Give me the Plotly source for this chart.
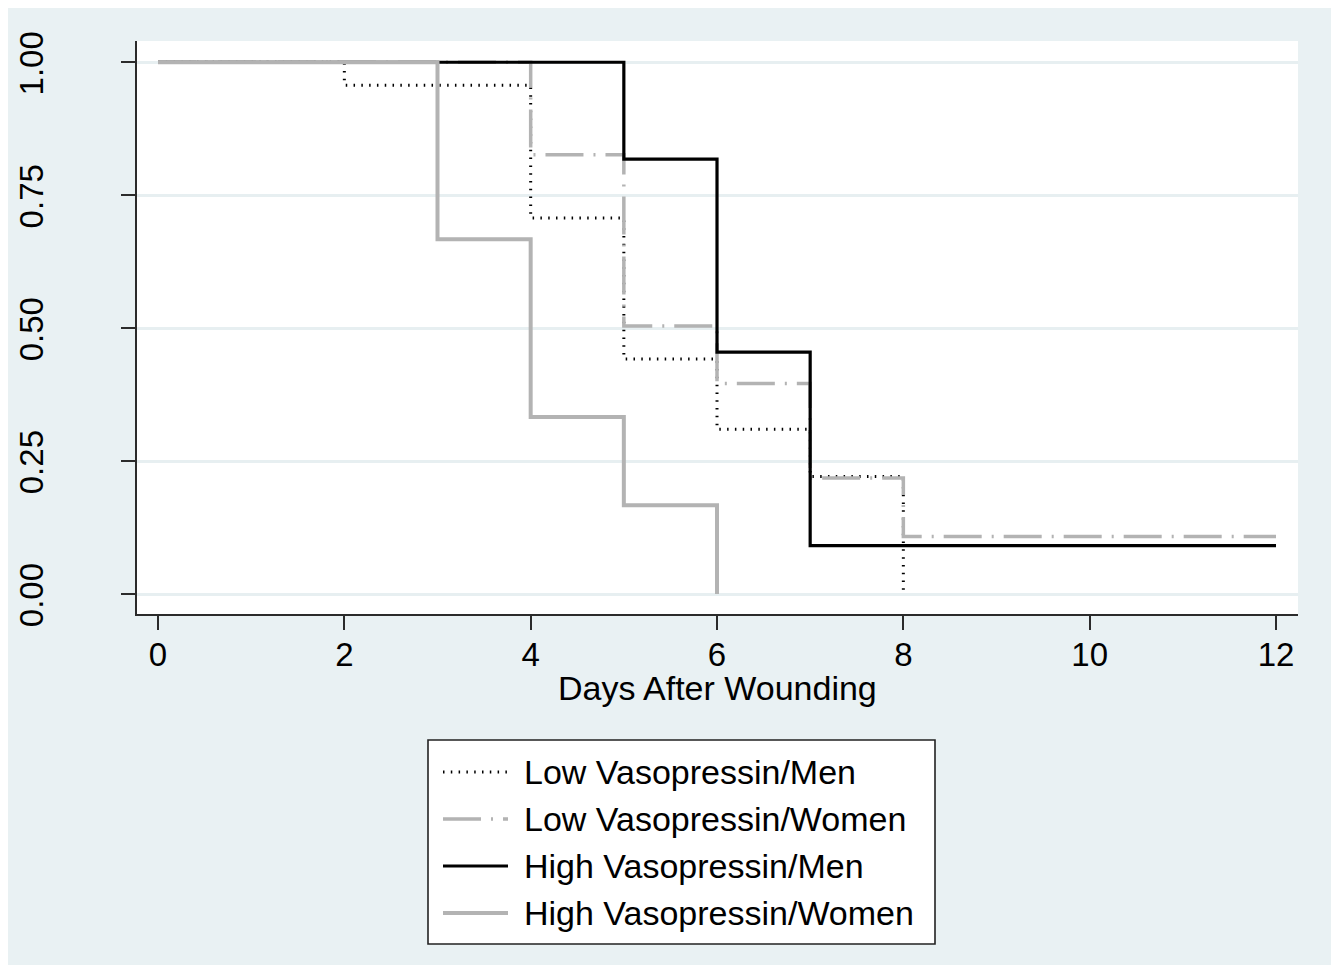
import plotly.graph_objects as go

# ---- data (Kaplan-Meier step estimates) ----
series_names = ["Low Vasopressin/Men", "Low Vasopressin/Women",
                "High Vasopressin/Men", "High Vasopressin/Women"]

low_men_days = [0, 2, 4, 5, 6, 7, 8]
low_men_surv = [1.0, 0.957, 0.707, 0.442, 0.310, 0.221, 0.0]

low_women_days = [0, 4, 5, 6, 7, 8, 12]
low_women_surv = [1.0, 0.826, 0.504, 0.396, 0.218, 0.108, 0.108]

high_men_days = [0, 5, 6, 7, 12]
high_men_surv = [1.0, 0.818, 0.455, 0.091, 0.091]

high_women_days = [0, 3, 4, 5, 6]
high_women_surv = [1.0, 0.667, 0.333, 0.167, 0.0]

x_ticks = [0, 2, 4, 6, 8, 10, 12]
y_ticks = [0.0, 0.25, 0.5, 0.75, 1.0]
x_title = "Days After Wounding"

# ---- styles / geometry (page body has an 8px margin) ----
OFF = 8
W, H = 1332 - OFF, 965 - OFF
ML, MR, MT = 137 - OFF, 1332 - 1298, 41 - OFF
MB = 965 - 614
PW, PH = W - ML - MR, H - MT - MB
BG = "#E9F1F3"
GRAY = "#B3B3B3"
FONT = "Liberation Sans, Arial, sans-serif"

styles = [
    dict(color="black", width=3, dash="1.5px,6.3px"),
    dict(color=GRAY, width=3.5, dash="38px,10px,2px,10px"),
    dict(color="black", width=3.2, dash="solid"),
    dict(color=GRAY, width=4, dash="solid"),
]
data = [(low_men_days, low_men_surv), (low_women_days, low_women_surv),
        (high_men_days, high_men_surv), (high_women_days, high_women_surv)]

fig = go.Figure()
for name, (xs, ys), st in zip(series_names, data, styles):
    fig.add_trace(go.Scatter(x=xs, y=ys, mode="lines", line_shape="hv",
                             name=name, line=st, showlegend=False))


def px_x(px):
    return (px - OFF - ML) / PW


def px_y(py):
    return (MT + PH - (py - OFF)) / PH


shapes = []
annotations = []
# legend box
shapes.append(dict(type="rect", xref="paper", yref="paper",
                   x0=px_x(428), x1=px_x(935), y0=px_y(944), y1=px_y(740),
                   line=dict(color="#222222", width=1.6), fillcolor="white",
                   layer="below"))
row_y = [772, 819, 866, 913]
for name, st, ry in zip(series_names, styles, row_y):
    shapes.append(dict(type="line", xref="paper", yref="paper",
                       x0=px_x(443), x1=px_x(508), y0=px_y(ry), y1=px_y(ry),
                       line=dict(color=st["color"], width=st["width"], dash=st["dash"]),
                       layer="above"))
    annotations.append(dict(xref="paper", yref="paper", x=px_x(522), y=px_y(ry),
                            text=name, showarrow=False, xanchor="left", yanchor="middle",
                            font=dict(family=FONT, size=34, color="black")))
# x axis title
annotations.append(dict(xref="paper", yref="paper", x=0.5, y=px_y(688),
                        text=x_title, showarrow=False, xanchor="center", yanchor="middle",
                        font=dict(family=FONT, size=34, color="black")))

fig.update_layout(
    width=W, height=H,
    margin=dict(l=ML, r=MR, t=MT, b=MB, pad=0, autoexpand=False),
    paper_bgcolor=BG, plot_bgcolor="white",
    font=dict(family=FONT, color="black"),
    shapes=shapes, annotations=annotations,
    showlegend=False,
)
fig.update_xaxes(
    range=[-0.2254, 12.236], tickvals=x_ticks, ticktext=[str(v) for v in x_ticks],
    showgrid=False, zeroline=False, showline=True, linecolor="#2b2b2b", linewidth=2,
    ticks="outside", ticklen=14, tickwidth=2, tickcolor="#2b2b2b",
    tickfont=dict(family=FONT, size=33, color="black"),
    ticklabelstandoff=-4, automargin=False,
)
fig.update_yaxes(
    range=[-0.0376, 1.040], tickvals=y_ticks, ticktext=["%.2f" % v for v in y_ticks],
    showgrid=True, gridcolor="#E7EFF1", gridwidth=3, zeroline=False,
    showline=True, linecolor="#2b2b2b", linewidth=2,
    ticks="outside", ticklen=14, tickwidth=2, tickcolor="#2b2b2b",
    tickangle=-90, tickfont=dict(family=FONT, size=33, color="black"),
    ticklabelstandoff=65, ticklabelshift=6, automargin=False,
)

fig.write_html("out.html")
